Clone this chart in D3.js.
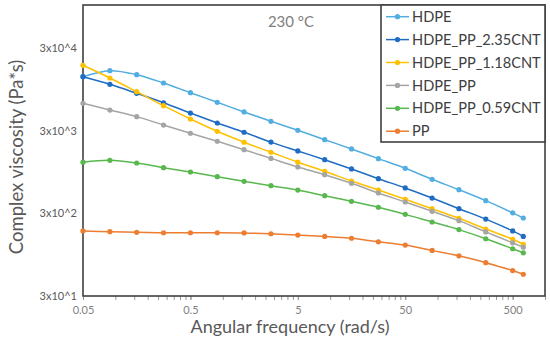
<!DOCTYPE html>
<html><head><meta charset="utf-8">
<script src="https://cdn.jsdelivr.net/npm/d3@7"></script>
<style>body{margin:0;background:#fff}svg{display:block;font-family:Lato,"Open Sans",sans-serif}</style>
</head><body><svg id="c" width="550" height="343"></svg>
<script>
const freq = [0.05, 0.089, 0.158, 0.281, 0.5, 0.889, 1.58, 2.81, 5, 8.89, 15.8, 28.1, 50, 88.9, 158, 281, 500, 628];
const seriesNames = ["HDPE", "HDPE_PP_2.35CNT", "HDPE_PP_1.18CNT", "HDPE_PP", "HDPE_PP_0.59CNT", "PP"];
const hdpe = [13550, 16030, 14330, 11370, 8670, 6640, 5070, 3910, 3040, 2340, 1810, 1380, 1055, 776, 581, 428, 305, 264];
const cnt235 = [13550, 10960, 8530, 6560, 4920, 3730, 2880, 2190, 1710, 1340, 1035, 789, 610, 460, 342, 256, 184, 158];
const cnt118 = [18620, 13070, 8920, 6040, 4170, 2960, 2180, 1650, 1250, 970, 740, 575, 445, 342, 262, 194, 146, 127];
const hdpePP = [6460, 5350, 4450, 3520, 2800, 2240, 1770, 1390, 1094, 883, 694, 530, 412, 318, 245, 179, 132, 117];
const cnt059 = [1250, 1318, 1222, 1072, 951, 834, 734, 649, 575, 491, 420, 356, 292, 236, 191, 148, 112, 100];
const pp = [184, 180, 177, 175, 175, 175, 174, 170, 164, 158, 150, 136, 124, 107, 92, 76, 61, 55];
const xTicks = [0.05, 0.5, 5, 50, 500];
const xTickLabels = ["0.05", "0.5", "5", "50", "500"];
const yTicks = [30, 300, 3000, 30000];
const yTickLabels = ["3x10^1", "3x10^2", "3x10^3", "3x10^4"];
const colors = ["#52ADE0", "#1E6CC4", "#FFC000", "#A5A5A5", "#58B84E", "#ED7D31"];
const values = [hdpe, cnt235, cnt118, hdpePP, cnt059, pp];

const svg = d3.select("#c");
const L = 83, T = 5, R = 545, B = 296;
const x = d3.scaleLog().domain([0.05, 1000]).range([L, R]);
const y = d3.scaleLog().domain([30, 100000]).range([B, T]);

// minor x ticks
const minor = [];
for (let d = 0.05; d < 1000; d *= 10) for (let k = 1; k <= 10; k++) { const v = d * k; if (v <= 1000) minor.push(v); }
svg.append("g").attr("transform", `translate(0,${B})`)
  .call(d3.axisBottom(x).tickValues(minor).tickFormat("").tickSize(4).tickSizeOuter(0))
  .call(g => g.select(".domain").remove())
  .call(g => g.selectAll("line").attr("stroke", "#999").attr("stroke-width", 1));

svg.append("g").attr("transform", `translate(0,${B})`)
  .call(d3.axisBottom(x).tickValues(xTicks).tickFormat((d, i) => xTickLabels[i]).tickSize(0).tickPadding(10))
  .call(g => g.select(".domain").remove())
  .call(g => g.selectAll("text").attr("fill", "#7f7f7f").style("font-size", "11px").style("font-family", "Lato, sans-serif"));

svg.append("g").attr("transform", `translate(${L},0)`)
  .call(d3.axisLeft(y).tickValues(yTicks).tickFormat((d, i) => yTickLabels[i]).tickSize(0).tickPadding(6))
  .call(g => g.select(".domain").remove())
  .call(g => g.selectAll("text").attr("fill", "#595959").style("font-size", "11px").style("font-family", "Lato, sans-serif"));

// frame
svg.append("rect").attr("x", L).attr("y", T).attr("width", R - L).attr("height", B - T)
  .attr("fill", "none").attr("stroke", "#404040").attr("stroke-width", 1.6);

const line = d3.line().x((d, i) => x(freq[i])).y(d => y(d)).curve(d3.curveCatmullRom.alpha(0.5));
values.forEach((vals, s) => {
  const g = svg.append("g");
  g.append("path").datum(vals).attr("d", line).attr("fill", "none")
    .attr("stroke", colors[s]).attr("stroke-width", 1.5);
  g.selectAll("circle").data(vals).join("circle")
    .attr("cx", (d, i) => x(freq[i])).attr("cy", d => y(d)).attr("r", 2.6).attr("fill", colors[s]);
});

svg.append("text").attr("x", 291).attr("y", 27).attr("text-anchor", "middle")
  .attr("fill", "#7f7f7f").style("font-size", "15px").text("230 °C");

// legend
const lg = svg.append("g");
lg.append("rect").attr("x", 381).attr("y", T).attr("width", R - 381).attr("height", 137)
  .attr("fill", "#fff").attr("stroke", "#404040").attr("stroke-width", 1.6);
seriesNames.forEach((n, i) => {
  const yy = 16.7 + i * 22.9;
  lg.append("line").attr("x1", 386).attr("x2", 409).attr("y1", yy).attr("y2", yy).attr("stroke", colors[i]).attr("stroke-width", 1.5);
  lg.append("circle").attr("cx", 397.5).attr("cy", yy).attr("r", 2.6).attr("fill", colors[i]);
  lg.append("text").attr("x", 412).attr("y", yy).attr("dy", "0.35em").attr("fill", "#404040")
    .style("font-size", "14.6px").text(n);
});

svg.append("text").attr("x", 290).attr("y", 333).attr("text-anchor", "middle")
  .attr("fill", "#595959").style("font-size", "18px").text("Angular frequency (rad/s)");
svg.append("text").attr("transform", "translate(23,157) rotate(-90)").attr("text-anchor", "middle")
  .attr("fill", "#595959").style("font-size", "18.5px").text("Complex viscosity (Pa*s)");
</script></body></html>
